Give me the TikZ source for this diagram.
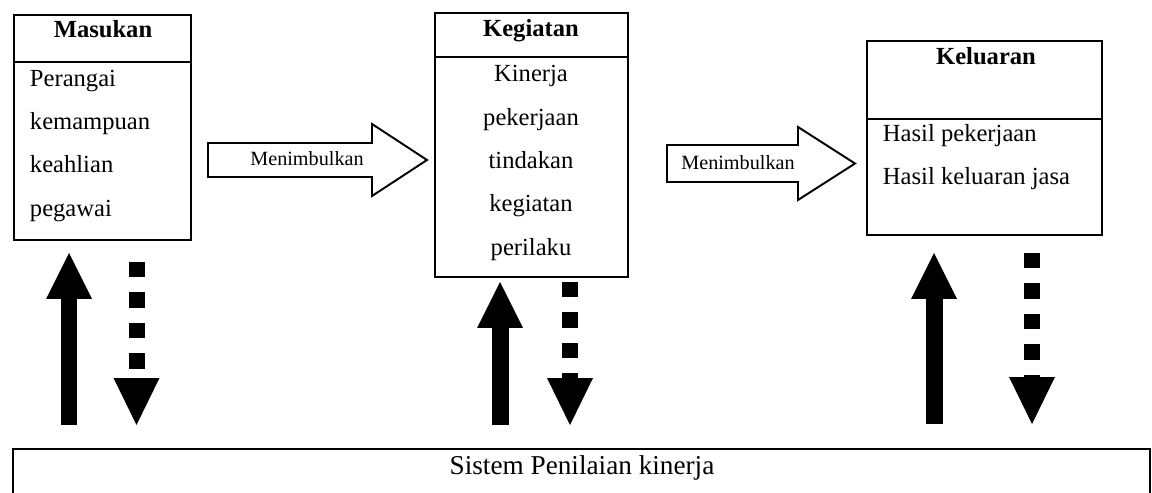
\documentclass[tikz,border=0pt]{standalone}
\usepackage{fontspec}
\setmainfont{Liberation Serif}
\usetikzlibrary{arrows.meta,positioning}

\begin{document}
\begin{tikzpicture}[x=0.02cm, y=-0.02cm, line width=1.1pt,
        block/.style={rectangle, draw, inner sep=0pt, outer sep=0pt, anchor=north west},
        judul/.style={font=\fontsize{14}{16}\selectfont\bfseries, inner sep=0pt, anchor=base},
        isi/.style={font=\fontsize{14}{16}\selectfont, inner sep=0pt, anchor=base west},
        isitengah/.style={font=\fontsize{14}{16}\selectfont, inner sep=0pt, anchor=base},
        kecil/.style={font=\fontsize{11.5}{13}\selectfont, inner sep=0pt, anchor=base},
        naik/.style={line width=0.34cm, -{Triangle[width=0.92cm, length=0.92cm, line width=0pt]}},
        turun/.style={line width=0.32cm, dash pattern=on 0.31cm off 0.3cm, -{Triangle[width=0.92cm, length=0.94cm, line width=0pt]}}
    ]
    \useasboundingbox (0,0) rectangle (1152,493);

    % Masukan
    \node[block, minimum width=3.54cm, minimum height=0.94cm] (masukanKop) at (14,15) {};
    \node[block, minimum width=3.54cm, minimum height=3.56cm, below=0pt of masukanKop] (masukanIsi) {};
    \node[judul] (masukanJudul) at (103,38) {Masukan};
    \foreach \teks [count=\i] in {Perangai, kemampuan, keahlian, pegawai}
        \node[isi] (masukan\i) at (29,{87+43*(\i-1)}) {\teks};

    % Kegiatan
    \node[block, minimum width=3.86cm, minimum height=0.88cm] (kegiatanKop) at (435,13) {};
    \node[block, minimum width=3.86cm, minimum height=4.4cm, below=0pt of kegiatanKop] (kegiatanIsi) {};
    \node[judul] (kegiatanJudul) at (531,37) {Kegiatan};
    \foreach \teks [count=\i] in {Kinerja, pekerjaan, tindakan, kegiatan, perilaku}
        \node[isitengah] (kegiatan\i) at (531,{82+43.3*(\i-1)}) {\teks};

    % Keluaran
    \node[block, minimum width=4.7cm, minimum height=1.56cm] (keluaranKop) at (867,41) {};
    \node[block, minimum width=4.7cm, minimum height=2.32cm, below=0pt of keluaranKop] (keluaranIsi) {};
    \node[judul] (keluaranJudul) at (986,65) {Keluaran};
    \node[isi] (keluaran1) at (882,142) {Hasil pekerjaan};
    \node[isi] (keluaran2) at (882,185) {Hasil keluaran jasa};

    % panah Menimbulkan
    \draw (208,143) -- (372,143) -- (372,124) -- (427,160) -- (372,196) -- (372,177) -- (208,177) -- cycle;
    \node[kecil] (menimbulkan1) at (307,166) {Menimbulkan};
    \draw (667,145) -- (798,145) -- (798,127) -- (855,163.5) -- (798,200) -- (798,182) -- (667,182) -- cycle;
    \node[kecil] (menimbulkan2) at (738,170) {Menimbulkan};

    % Sistem penilaian (bagian bawah terpotong)
    \node[block, draw=none, minimum width=22.74cm, minimum height=1.2cm] (sistem) at (13,449) {};
    \draw (sistem.south west) -- (sistem.north west) -- (sistem.north east) -- (sistem.south east);
    \node[font=\fontsize{15.5}{18}\selectfont, inner sep=0pt, anchor=base] (sistemTeks) at (582,474) {Sistem Penilaian kinerja};

    % panah naik dan turun
    \draw[naik] (69,425) -- (69,253);
    \draw[turun] (136.5,262) -- (136.5,425);
    \draw[naik] (500,425) -- (500,282);
    \draw[turun] (570,282) -- (570,425);
    \draw[naik] (934,424) -- (934,253);
    \draw[turun] (1032,253) -- (1032,424);
\end{tikzpicture}
\end{document}
